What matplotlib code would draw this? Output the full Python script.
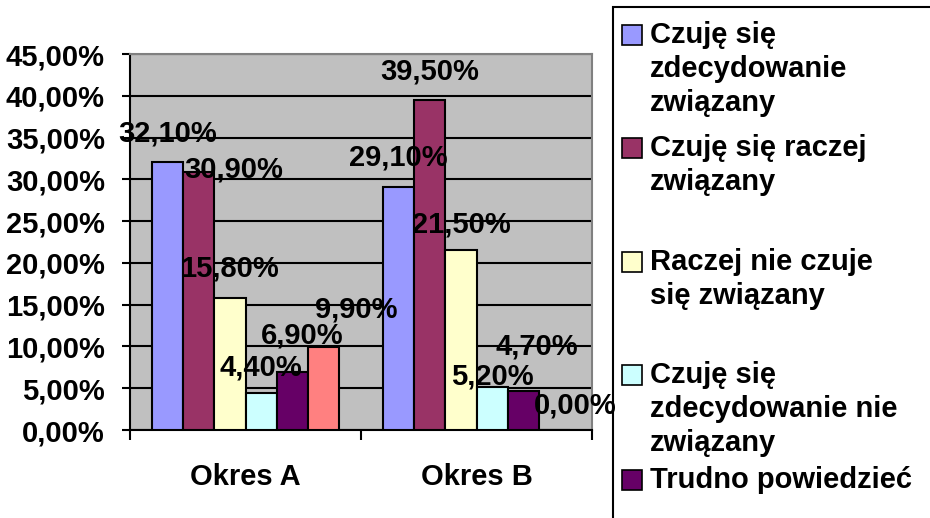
import matplotlib
matplotlib.use("Agg")
import matplotlib.pyplot as plt
import numpy as np
from matplotlib.patches import Rectangle

# Data
categories = ["Okres A", "Okres B"]
series_names = [
    "Czuję się\nzdecydowanie\nzwiązany",
    "Czuję się raczej\nzwiązany",
    "Raczej nie czuje\nsię związany",
    "Czuję się\nzdecydowanie nie\nzwiązany",
    "Trudno powiedzieć",
    "Brak odpowiedzi",
]
values_a = [32.1, 30.9, 15.8, 4.4, 6.9, 9.9]
values_b = [29.1, 39.5, 21.5, 5.2, 4.7, 0.0]
value_labels_a = ["32,10%", "30,90%", "15,80%", "4,40%", "6,90%", "9,90%"]
value_labels_b = ["29,10%", "39,50%", "21,50%", "5,20%", "4,70%", "0,00%"]
yticks = [0, 5, 10, 15, 20, 25, 30, 35, 40, 45]
ytick_labels = ["0,00%", "5,00%", "10,00%", "15,00%", "20,00%",
                "25,00%", "30,00%", "35,00%", "40,00%", "45,00%"]

# Styling
colors = ["#9999FF", "#993366", "#FFFFCC", "#CCFFFF", "#660066", "#FF8080"]
# manual label offsets (pixels) as placed in the original sheet
label_dx_a = [0, 35, 0, 0, 10, 33]
label_dy_a = [28, 2, 29, 26, 37, 38]
label_dx_b = [0, 0, 0, 0, 14, 21]
label_dy_b = [29, 28, 26, 10, 44, 25]

FONT = "Liberation Sans"
FS = 21

W, H = 930, 518
fig = plt.figure(figsize=(W / 100, H / 100), dpi=100)
ax = fig.add_axes([130 / W, 1 - 430 / H, 462 / W, 376 / H])
ax.set_facecolor("#C0C0C0")

bar_w = 0.1348
x = np.arange(len(categories))
for i in range(len(series_names)):
    vals = [values_a[i], values_b[i]]
    xs = x + (i - 2.5) * bar_w
    ax.bar(xs, vals, width=bar_w, color=colors[i], edgecolor="black",
           linewidth=1.5, zorder=3)
    for j, (lbls, dxs, dys) in enumerate([(value_labels_a, label_dx_a, label_dy_a),
                                          (value_labels_b, label_dx_b, label_dy_b)]):
        ax.annotate(lbls[i], xy=(xs[j], vals[j]), xytext=(dxs[i], dys[i]),
                    textcoords="offset pixels", ha="center", va="center",
                    fontsize=FS, fontweight="bold", family=FONT, zorder=5,
                    annotation_clip=False)

ax.set_xlim(-0.5, 1.5)
ax.set_ylim(0, 45)
ax.set_yticks(yticks)
ax.set_yticklabels(ytick_labels, fontsize=FS, fontweight="bold", family=FONT)
ax.tick_params(axis="y", direction="out", length=6, width=1.5, pad=12)

ax.set_xticks(x)
ax.set_xticklabels(categories, fontsize=FS, fontweight="bold", family=FONT)
ax.set_xticks([-0.5, 0.5, 1.5], minor=True)
ax.tick_params(axis="x", which="major", length=0, pad=24)
ax.tick_params(axis="x", which="minor", direction="out", length=7, width=1.5)

ax.yaxis.grid(True, color="black", linewidth=1.5, zorder=1)
ax.set_axisbelow(True)
for side in ["top", "right"]:
    ax.spines[side].set_color("#808080")
    ax.spines[side].set_linewidth(1.5)
for side in ["left", "bottom"]:
    ax.spines[side].set_color("black")
    ax.spines[side].set_linewidth(1.5)

# Legend (Excel style, partly cut off by the image border)
def px(xp, yp):
    return xp / W, 1 - yp / H

fig.patches.append(Rectangle(px(613, 530), 400 / W, 523 / H, transform=fig.transFigure,
                             fill=False, edgecolor="black", linewidth=1.5))
entry_y = [35, 148, 262, 375, 480]
line_h = 34
for i, yy in enumerate(entry_y):
    fig.patches.append(Rectangle(px(622, yy + 10), 20 / W, 20 / H,
                                 transform=fig.transFigure, facecolor=colors[i],
                                 edgecolor="black", linewidth=1.2))
    for k, line in enumerate(series_names[i].split("\n")):
        fig.text(*px(650, yy + k * line_h), line, fontsize=FS, fontweight="bold",
                 family=FONT, ha="left", va="center")

fig.savefig("out.png", dpi=100)
